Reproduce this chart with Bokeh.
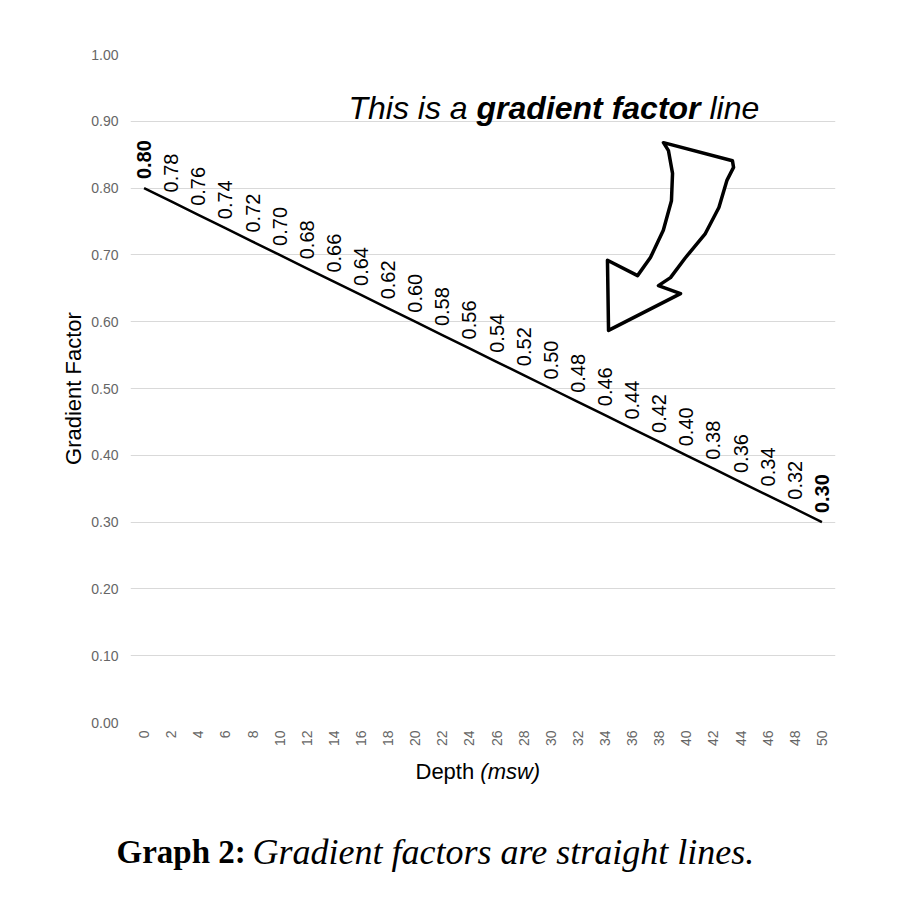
from bokeh.plotting import figure
from bokeh.models import ColumnDataSource, Label, FixedTicker, CustomJSTickFormatter, Range1d
from bokeh.layouts import column
from bokeh.embed import file_html
from bokeh.resources import INLINE
import math

# ---- data ----
depths = [0, 2, 4, 6, 8, 10, 12, 14, 16, 18, 20, 22, 24, 26, 28, 30, 32, 34, 36, 38, 40, 42, 44, 46, 48, 50]
gf = [0.80, 0.78, 0.76, 0.74, 0.72, 0.70, 0.68, 0.66, 0.64, 0.62, 0.60, 0.58, 0.56, 0.54, 0.52,
      0.50, 0.48, 0.46, 0.44, 0.42, 0.40, 0.38, 0.36, 0.34, 0.32, 0.30]
gf_labels = ["%.2f" % v for v in gf]
y_ticks = [0.0, 0.1, 0.2, 0.3, 0.4, 0.5, 0.6, 0.7, 0.8, 0.9, 1.0]

# hand-drawn arrow outline (annotation), in data units
arrow_x = [38.31, 43.40, 43.48, 43.0, 42.4, 41.4, 39.9, 38.83, 37.94, 39.57, 34.26, 34.18, 36.40,
           37.35, 38.3, 38.9, 38.98, 38.68]
arrow_y = [0.868, 0.841, 0.831, 0.812, 0.771, 0.732, 0.695, 0.666, 0.654, 0.642, 0.587, 0.692, 0.669,
           0.696, 0.737, 0.781, 0.822, 0.856]

W = 889
H1 = 752
H2 = 899 - H1
BL, BR = 130, 54

p = figure(width=W, height=H1, output_backend="svg", toolbar_location=None,
           x_range=Range1d(-1, 51), y_range=Range1d(0, 1.0),
           min_border_left=BL, min_border_right=BR, min_border_top=54, min_border_bottom=30)
p.outline_line_color = None
p.background_fill_color = "white"
p.border_fill_color = "white"

# axes
p.xaxis.ticker = FixedTicker(ticks=depths)
p.yaxis.ticker = FixedTicker(ticks=y_ticks)
p.yaxis.formatter = CustomJSTickFormatter(code="return tick.toFixed(2);")
for ax in (p.xaxis[0], p.yaxis[0]):
    ax.axis_line_color = None
    ax.major_tick_line_color = None
    ax.minor_tick_line_color = None
    ax.major_tick_out = 0
    ax.major_tick_in = 0
    ax.minor_tick_out = 0
    ax.major_label_text_color = "#666666"
    ax.major_label_text_font = "Liberation Sans"
p.yaxis.major_label_text_font_size = "14px"
p.yaxis.major_label_standoff = 12
p.xaxis.major_label_text_font_size = "14px"
p.xaxis.major_label_orientation = math.pi / 2
p.xaxis.major_label_standoff = 8

p.yaxis.axis_label = "Gradient Factor"
p.yaxis.axis_label_text_font = "Liberation Sans"
p.yaxis.axis_label_text_font_size = "22px"
p.yaxis.axis_label_text_font_style = "normal"
p.yaxis.axis_label_text_color = "black"
p.yaxis.axis_label_standoff = 2

p.xgrid.grid_line_color = None
p.ygrid.grid_line_color = "#d9d9d9"
p.ygrid.grid_line_width = 1

# line and point labels
src = ColumnDataSource(dict(x=depths, y=gf, lab=gf_labels,
                            style=["bold"] + ["normal"] * (len(gf) - 2) + ["bold"]))
p.line("x", "y", source=src, line_color="black", line_width=2.5)
p.text("x", "y", text="lab", source=src, angle=math.pi / 2, text_align="left",
       text_baseline="middle", y_offset=-9, text_font_size="20px",
       text_font_style="style", text_color="black",
       text_font={"value": "Liberation Sans"})

# arrow
p.patch(arrow_x, arrow_y, fill_color="white", line_color="black", line_width=3.5, line_join="round")

# annotation title (inside frame; screen units are frame-relative)
TS = 32
tfont = "Liberation Sans"
x0 = 218
w1 = 4.001 * TS
w2 = 7.001 * TS
base = 615
p.add_layout(Label(x=x0, y=base, x_units="screen", y_units="screen", text="This is a",
                   text_font=tfont, text_font_size=f"{TS}px", text_font_style="italic",
                   text_align="left", text_baseline="alphabetic", text_color="black"))
p.add_layout(Label(x=x0 + w1, y=base, x_units="screen", y_units="screen", text="gradient factor",
                   text_font=tfont, text_font_size=f"{TS}px", text_font_style="bold italic",
                   text_align="left", text_baseline="alphabetic", text_color="black"))
p.add_layout(Label(x=x0 + w1 + w2 + 0.278 * TS, y=base, x_units="screen", y_units="screen", text="line",
                   text_font=tfont, text_font_size=f"{TS}px", text_font_style="italic",
                   text_align="left", text_baseline="alphabetic", text_color="black"))

# bottom strip: x-axis title and caption (own full-width frame, page-pixel coordinates)
p2 = figure(width=W, height=H2, output_backend="svg", toolbar_location=None,
            x_range=Range1d(0, W), y_range=Range1d(H2, 0),
            x_axis_type=None, y_axis_type=None, min_border=0)
p2.frame_align = False
p2.outline_line_color = None
p2.grid.grid_line_color = None
p2.background_fill_color = "white"
p2.border_fill_color = "white"

p2.add_layout(Label(x=415, y=19, text="Depth", text_font="Liberation Sans", text_font_size="22px",
                    text_align="left", text_baseline="alphabetic", text_color="black"))
p2.add_layout(Label(x=415 + 2.946 * 22, y=19, text="(msw)", text_font="Liberation Sans",
                    text_font_size="22px", text_font_style="italic", text_align="left",
                    text_baseline="alphabetic", text_color="black"))
p2.add_layout(Label(x=116, y=99, text="Graph 2:", text_font="Liberation Serif", text_font_size="33px",
                    text_font_style="bold", text_align="left", text_baseline="alphabetic",
                    text_color="black"))
p2.add_layout(Label(x=252, y=99, text="Gradient factors are straight lines.", text_font="Liberation Serif",
                    text_font_size="36px", text_font_style="italic", text_align="left",
                    text_baseline="alphabetic", text_color="black"))

layout = column(p, p2, spacing=0)
open("out.html", "w").write(file_html(layout, INLINE))
